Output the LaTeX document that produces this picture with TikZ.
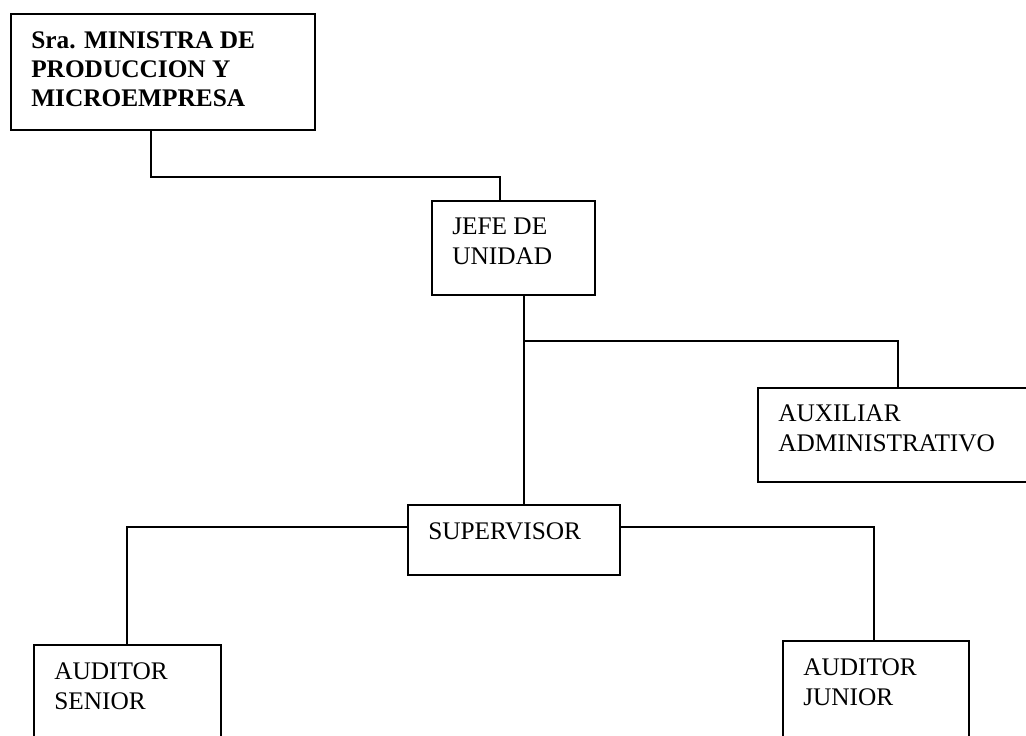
\documentclass[tikz,border=0pt]{standalone}
\usepackage{fontspec}
\setmainfont{Liberation Serif}
\begin{document}
\begin{tikzpicture}[x=0.75pt,y=-0.75pt,
  box/.style={draw, line width=1.4pt, rectangle, inner sep=0pt, anchor=north west},
  lbl/.style={anchor=north west, inner sep=0pt, align=left, xshift=15.75pt, yshift=-13.5pt,
              font=\fontsize{19pt}{22.5pt}\selectfont},
  conn/.style={line width=1.4pt}]
\useasboundingbox (0,0) rectangle (1026,736);
\clip (0,0) rectangle (1026,736);
% boxes
\node[box, minimum width=228pt, minimum height=87pt] (min) at (10,13) {};
\node[box, minimum width=122.25pt, minimum height=70.5pt] (jefe) at (431,200) {};
\node[box, minimum width=217.5pt, minimum height=70.5pt] (aux) at (757,387) {};
\node[box, minimum width=159pt, minimum height=52.5pt] (sup) at (407,504) {};
\node[box, minimum width=140.25pt, minimum height=90pt] (sen) at (33,644) {};
\node[box, minimum width=139.5pt, minimum height=90pt] (jun) at (782,640) {};
% texts
\node[lbl, font=\fontsize{19pt}{22pt}\selectfont\bfseries] (tmin) at (min.north west) {Sra. MINISTRA DE\\PRODUCCION Y\\MICROEMPRESA};
\node[lbl] (tjefe) at (jefe.north west) {JEFE DE\\UNIDAD};
\node[lbl] (taux) at (aux.north west) {AUXILIAR\\ADMINISTRATIVO};
\node[lbl] (tsup) at (sup.north west) {SUPERVISOR};
\node[lbl] (tsen) at (sen.north west) {AUDITOR\\SENIOR};
\node[lbl] (tjun) at (jun.north west) {AUDITOR\\JUNIOR};
% bend points
\coordinate (b1) at (151,177);
\coordinate (b2) at (500,177);
\coordinate (j1) at (524,341);
\coordinate (j2) at (898,341);
\coordinate (s1) at (127,527);
\coordinate (s2) at (874,527);
% connectors
\draw[conn] (b1 |- min.south) -- (b1) -- (b2) -- (b2 |- jefe.north);
\draw[conn] (j1 |- jefe.south) -- (j1 |- sup.north);
\draw[conn] (j1) -- (j2) -- (j2 |- aux.north);
\draw[conn] (sup.west |- s1) -- (s1) -- (s1 |- sen.north);
\draw[conn] (sup.east |- s2) -- (s2) -- (s2 |- jun.north);
\end{tikzpicture}
\end{document}
